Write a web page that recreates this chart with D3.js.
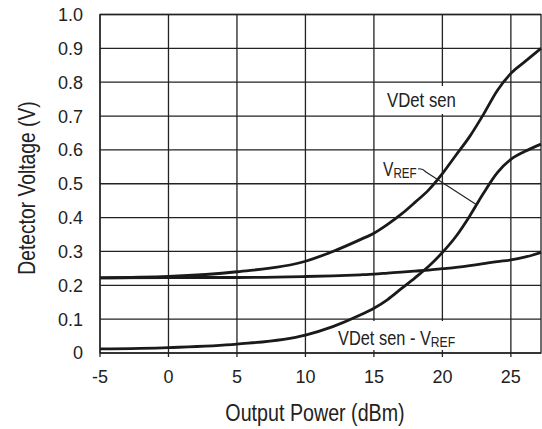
<!DOCTYPE html>
<html>
<head>
<meta charset="utf-8">
<script src="https://cdn.jsdelivr.net/npm/d3@7"></script>
<style>
  html, body { margin: 0; padding: 0; background: #fff; }
  svg { display: block; }
  text { font-family: "Liberation Sans", Arial, sans-serif; fill: #222; }
</style>
</head>
<body>
<div id="chart"></div>
<script>
// Output power in dBm (x) and the three measured curves (V)
const power   = [-5, 0, 5, 10, 12, 14, 15, 16, 17, 18, 19, 20, 21, 22, 23, 24, 25, 26, 27.2];
const vdetSen = [0.222, 0.226, 0.24, 0.271, 0.30, 0.335, 0.354, 0.38, 0.41, 0.445, 0.482, 0.53, 0.585, 0.64, 0.705, 0.775, 0.826, 0.86, 0.90];
const vref    = [0.222, 0.223, 0.223, 0.226, 0.228, 0.231, 0.233, 0.236, 0.239, 0.242, 0.245, 0.249, 0.253, 0.258, 0.264, 0.27, 0.275, 0.283, 0.297];
const vdiff   = [0.012, 0.016, 0.026, 0.053, 0.078, 0.112, 0.132, 0.158, 0.19, 0.222, 0.256, 0.297, 0.345, 0.405, 0.472, 0.532, 0.572, 0.595, 0.617];

const xTicks = [-5, 0, 5, 10, 15, 20, 25];
const yTicks = [0, 0.1, 0.2, 0.3, 0.4, 0.5, 0.6, 0.7, 0.8, 0.9, 1.0];

const width = 542, height = 429;
const margin = { top: 14.5, right: 1, bottom: 76, left: 100 };

const svg = d3.select("#chart").append("svg")
    .attr("width", width)
    .attr("height", height);

const x = d3.scaleLinear().domain([-5, 27.2]).range([margin.left, width - margin.right]);
const y = d3.scaleLinear().domain([0, 1]).range([height - margin.bottom, margin.top]);

const grid = svg.append("g").attr("stroke", "#222").attr("stroke-width", 1.3);

// vertical grid lines, with a small tick below the frame
grid.selectAll(".vx")
    .data(xTicks)
    .join("line")
    .attr("x1", d => x(d)).attr("x2", d => x(d))
    .attr("y1", y(1)).attr("y2", y(0) + 4);

grid.selectAll(".hy")
    .data(yTicks)
    .join("line")
    .attr("x1", x(-5)).attr("x2", x(27.2))
    .attr("y1", d => y(d)).attr("y2", d => y(d));

grid.append("rect")
    .attr("x", x(-5)).attr("y", y(1))
    .attr("width", x(27.2) - x(-5)).attr("height", y(0) - y(1))
    .attr("fill", "none");

// tick labels
svg.append("g").selectAll("text")
    .data(yTicks)
    .join("text")
    .attr("x", 83)
    .attr("y", d => y(d))
    .attr("dy", "0.36em")
    .attr("text-anchor", "end")
    .attr("font-size", 18)
    .text(d => d === 0 ? "0" : d3.format(".1f")(d));

svg.append("g").selectAll("text")
    .data(xTicks)
    .join("text")
    .attr("x", d => x(d))
    .attr("y", 383)
    .attr("text-anchor", "middle")
    .attr("font-size", 18)
    .text(d => d);

// axis titles use a condensed look, squeezed horizontally
svg.append("text")
    .attr("transform", "translate(315,421) scale(0.82,1)")
    .attr("text-anchor", "middle")
    .attr("font-size", 24)
    .text("Output Power (dBm)");

svg.append("text")
    .attr("transform", "translate(35,188) rotate(-90) scale(0.82,1)")
    .attr("text-anchor", "middle")
    .attr("font-size", 23.5)
    .text("Detector Voltage (V)");

// label backgrounds hide the grid underneath
svg.append("rect").attr("x", 385).attr("y", 86).attr("width", 73).attr("height", 28).attr("fill", "#fff");
svg.append("rect").attr("x", 336).attr("y", 321).attr("width", 124).attr("height", 29).attr("fill", "#fff");

// curves
const line = d3.line()
    .x((d, i) => x(power[i]))
    .y(d => y(d))
    .curve(d3.curveMonotoneX);

svg.append("g")
    .attr("fill", "none")
    .attr("stroke", "#1a1a1a")
    .attr("stroke-width", 2.8)
    .attr("stroke-linejoin", "round")
    .selectAll("path")
    .data([vdetSen, vref, vdiff])
    .join("path")
    .attr("d", line);

// annotations
svg.append("text")
    .attr("transform", "translate(387,107) scale(0.86,1)")
    .attr("font-size", 19.5)
    .text("VDet sen");

const vl = svg.append("text")
    .attr("transform", "translate(383,176) scale(0.8,1)")
    .attr("font-size", 19.5);
vl.append("tspan").text("V");
vl.append("tspan").attr("font-size", 14.5).attr("dy", 1.5).text("REF");

svg.append("path")
    .attr("d", "M418,169 Q422,168 426,172 L477,205")
    .attr("fill", "none")
    .attr("stroke", "#222")
    .attr("stroke-width", 1.1);

const bl = svg.append("text")
    .attr("transform", "translate(338,345) scale(0.84,1)")
    .attr("font-size", 19.5);
bl.append("tspan").text("VDet sen - V");
bl.append("tspan").attr("font-size", 14.5).attr("dy", 1.5).text("REF");
</script>
</body>
</html>
